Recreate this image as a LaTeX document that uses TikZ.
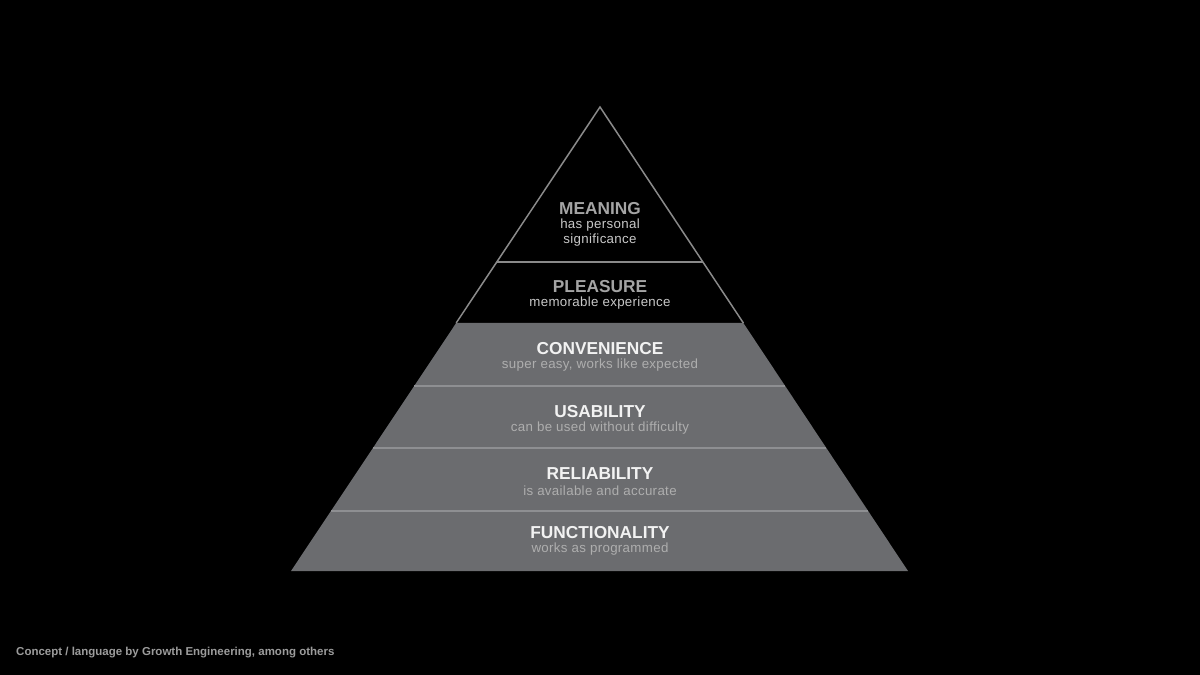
\documentclass[tikz,border=0pt]{standalone}
\usepackage{fontspec}
\setmainfont{Liberation Sans}
\newfontfamily\subfont[LetterSpace=2.5]{Liberation Sans}
\usetikzlibrary{calc}
\definecolor{layergray}{HTML}{6B6C6F}
\definecolor{sepgray}{HTML}{8E8F92}
\definecolor{edgegray}{HTML}{8A8A8A}
\definecolor{darktitle}{HTML}{A4A4A4}
\definecolor{darksub}{HTML}{C8C8C8}
\definecolor{lighttitle}{HTML}{F2F2F2}
\definecolor{lightsub}{HTML}{AEAEAE}
\definecolor{notegray}{HTML}{9C9C9C}
\tikzset{
  ttl/.style={font=\fontsize{17.3}{18}\selectfont\bfseries, inner sep=0pt, anchor=center},
  sub/.style={font=\subfont\fontsize{13.3}{15}\selectfont, inner sep=0pt, anchor=center},
  darkttl/.style={ttl, text=darktitle},
  darksubt/.style={sub, text=darksub},
  lightttl/.style={ttl, text=lighttitle},
  lightsubt/.style={sub, text=lightsub},
  sep/.style={draw=sepgray, line width=1.6pt},
  edge/.style={draw=edgegray, line width=1.5pt, line join=miter},
}
\begin{document}
\begin{tikzpicture}[x=1pt,y=-1pt]
\fill[black] (0,0) rectangle (1200,675);
\useasboundingbox (0,0) rectangle (1200,675);
\coordinate (A) at (600,107);
\coordinate (BL) at (291,571);
\coordinate (BR) at (908,571);
% boundary points
\coordinate (L1) at ($(A)!0.3341!(BL)$); \coordinate (R1) at ($(A)!0.3341!(BR)$);
\coordinate (L2) at ($(A)!0.4655!(BL)$); \coordinate (R2) at ($(A)!0.4655!(BR)$);
\coordinate (L3) at ($(A)!0.6013!(BL)$); \coordinate (R3) at ($(A)!0.6013!(BR)$);
\coordinate (L4) at ($(A)!0.7349!(BL)$); \coordinate (R4) at ($(A)!0.7349!(BR)$);
\coordinate (L5) at ($(A)!0.8707!(BL)$); \coordinate (R5) at ($(A)!0.8707!(BR)$);
% gray lower part
\fill[layergray] (L2) -- (R2) -- (BR) -- (BL) -- cycle;
% black upper part outline
\draw[edge] (L2) -- (A) -- (R2);
\draw[edge] (L1) -- (R1);
% separators
\draw[sep] (L3) -- (R3);
\draw[sep] (L4) -- (R4);
\draw[sep] (L5) -- (R5);
% texts
\node[darkttl] (meaning) at (600,209) {MEANING};
\node[darksubt] (meaning1) at (600,225) {has personal};
\node[darksubt] (meaning2) at (600,240.5) {significance};
\node[darkttl] (pleasure) at (600,287) {PLEASURE};
\node[darksubt] (pleasure1) at (600,303) {memorable experience};
\node[lightttl] (convenience) at (600,349) {CONVENIENCE};
\node[lightsubt] (convenience1) at (600,365.5) {super easy, works like expected};
\node[lightttl] (usability) at (600,412) {USABILITY};
\node[lightsubt] (usability1) at (600,428.5) {can be used without difficulty};
\node[lightttl] (reliability) at (600,474) {RELIABILITY};
\node[lightsubt] (reliability1) at (600,490.5) {is available and accurate};
\node[lightttl] (functionality) at (600,533) {FUNCTIONALITY};
\node[lightsubt] (functionality1) at (600,549.5) {works as programmed};
\node[font=\fontsize{11.5}{13}\selectfont\bfseries, text=notegray, inner sep=0pt, anchor=west] (note) at (16,652.5) {Concept / language by Growth Engineering, among others};
\end{tikzpicture}
\end{document}
